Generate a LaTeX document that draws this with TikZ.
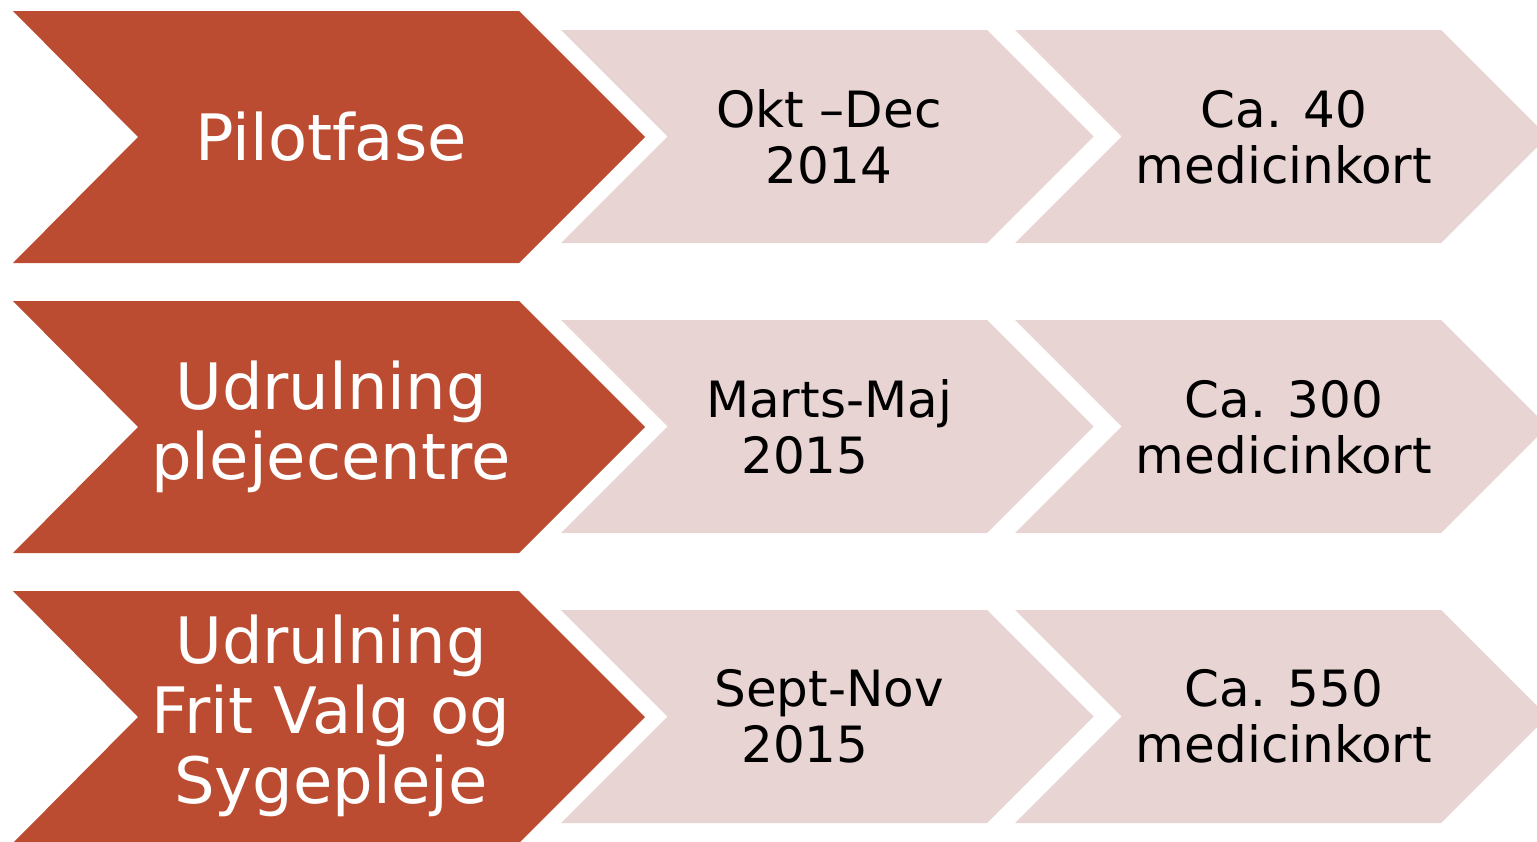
\documentclass[tikz,border=0pt]{standalone}
\usepackage{fontspec}
\setmainfont{DejaVu Sans}
\usepackage{tikz}

\definecolor{rust}{HTML}{BC4C31}
\definecolor{blush}{HTML}{E8D4D3}

\tikzset{
	phase/.style={fill=rust},
	info/.style={fill=blush},
	phasetext/.style={text=white,align=center,font=\fontsize{64}{70}\selectfont},
	infotext/.style={text=black,align=center,font=\fontsize{50}{56}\selectfont}
}

\begin{document}
\begin{tikzpicture}[x=1pt,y=-1pt]
	
	\useasboundingbox (0,0) rectangle (1537,841);
	
	% row 1
	\fill[phase] (13,11)   -- (519,11)  -- ++(126,126)     -- ++(-126,126)     -- (13,263)   -- ++(125,-126)     -- cycle;
	\fill[info]  (561,30)  -- (987,30)  -- ++(106.5,106.5) -- ++(-106.5,106.5) -- (561,243)  -- ++(106.5,-106.5) -- cycle;
	\fill[info]  (1015,30) -- (1441,30) -- ++(106.5,106.5) -- ++(-106.5,106.5) -- (1015,243) -- ++(106.5,-106.5) -- cycle;
	
	% row 2
	\fill[phase] (13,301)  -- (519,301)  -- ++(126,126)     -- ++(-126,126)     -- (13,553)   -- ++(125,-126)     -- cycle;
	\fill[info]  (561,320) -- (987,320)  -- ++(106.5,106.5) -- ++(-106.5,106.5) -- (561,533)  -- ++(106.5,-106.5) -- cycle;
	\fill[info]  (1015,320) -- (1441,320) -- ++(106.5,106.5) -- ++(-106.5,106.5) -- (1015,533) -- ++(106.5,-106.5) -- cycle;
	
	% row 3
	\fill[phase] (13,591)  -- (519,591)  -- ++(126,126)     -- ++(-126,126)     -- (13,843)   -- ++(125,-126)     -- cycle;
	\fill[info]  (561,610) -- (987,610)  -- ++(106.5,106.5) -- ++(-106.5,106.5) -- (561,823)  -- ++(106.5,-106.5) -- cycle;
	\fill[info]  (1015,610) -- (1441,610) -- ++(106.5,106.5) -- ++(-106.5,106.5) -- (1015,823) -- ++(106.5,-106.5) -- cycle;
	
	\node[phasetext] (pilot)     at (331, 137) {Pilotfase};
	\node[infotext]  (pilotdate) at (829, 137) {Okt --Dec\\2014};
	\node[infotext]  (pilotnum)  at (1284,137) {Ca. 40\\medicinkort};
	
	\node[phasetext] (pleje)     at (331, 427) {Udrulning\\plejecentre};
	\node[infotext]  (plejedate) at (829, 427) {Marts-Maj\\2015\hspace*{48pt}};
	\node[infotext]  (plejenum)  at (1284,427) {Ca. 300\\medicinkort};
	
	\node[phasetext] (valg)      at (331, 716) {Udrulning\\Frit Valg og\\Sygepleje};
	\node[infotext]  (valgdate)  at (829, 716) {Sept-Nov\\2015\hspace*{48pt}};
	\node[infotext]  (valgnum)   at (1284,716) {Ca. 550\\medicinkort};
	
\end{tikzpicture}
\end{document}
